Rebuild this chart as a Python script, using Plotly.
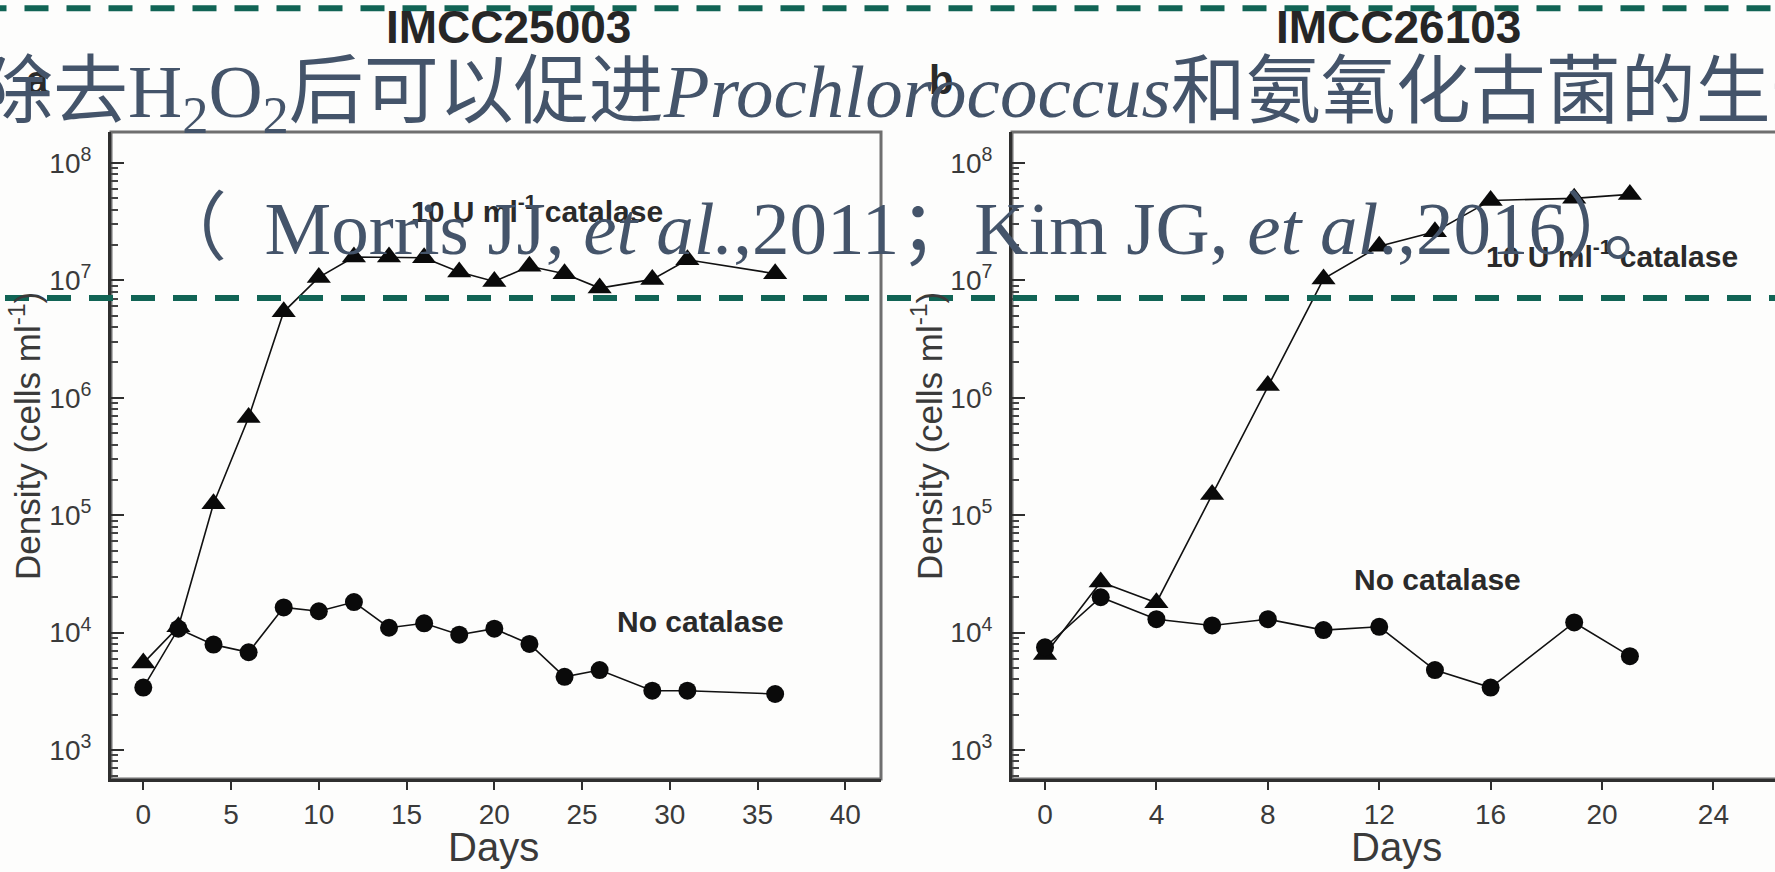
import plotly.graph_objects as go

# ---------------- data ----------------
left_days = [0, 2, 4, 6, 8, 10, 12, 14, 16, 18, 20, 22, 24, 26, 29, 31, 36]
left_catalase = [5.5e3, 1.12e4, 1.25e5, 6.8e5, 5.4e6, 1.06e7, 1.58e7, 1.58e7, 1.56e7,
                 1.18e7, 9.8e6, 1.32e7, 1.14e7, 8.6e6, 1.02e7, 1.5e7, 1.14e7]
left_nocat = [3.4e3, 1.08e4, 7.9e3, 6.8e3, 1.64e4, 1.52e4, 1.82e4, 1.1e4, 1.2e4,
              9.6e3, 1.08e4, 8.0e3, 4.2e3, 4.8e3, 3.2e3, 3.2e3, 3.0e3]

right_days = [0, 2, 4, 6, 8, 10, 12, 14, 16, 19, 21]
right_catalase = [6.5e3, 2.7e4, 1.8e4, 1.5e5, 1.27e6, 1.03e7, 1.95e7, 2.6e7, 4.8e7, 5.0e7, 5.4e7]
right_nocat = [7.5e3, 2.0e4, 1.3e4, 1.15e4, 1.3e4, 1.05e4, 1.12e4, 4.8e3, 3.4e3, 1.22e4, 6.3e3]

left_xticks = [0, 5, 10, 15, 20, 25, 30, 35, 40]
right_xticks = [0, 4, 8, 12, 16, 20, 24]
y_exponents = [3, 4, 5, 6, 7, 8]

titles = ["IMCC25003", "IMCC26103"]
cn_line1 = "除去H<sub>2</sub>O<sub>2</sub>后可以促进<i>Prochlorococcus</i>和氨氧化古菌的生长"
cn_line2 = "（\u00a0\u00a0Morris JJ, <i>et al.</i>,2011；Kim JG, <i>et al</i>.,2016）。"

# ---------------- geometry helpers ----------------
W, H = 1775, 872
def px(x):
    return x / W
def py(y):
    return 1 - y / H

TXT = "#3a3a3a"
AX = "#2f2f2f"
BG = "#fdfdfc"
TEAL = "#116455"
SLATE = "#44546A"

fig = go.Figure()

def add_series(days, vals, symbol, size, xa, ya):
    fig.add_trace(go.Scatter(
        x=days, y=vals, mode="lines+markers", xaxis=xa, yaxis=ya,
        line=dict(color="#111111", width=1.6),
        marker=dict(symbol=symbol, size=size, color="#0a0a0a", line=dict(width=0)),
        showlegend=False, cliponaxis=False))

add_series(left_days, left_catalase, "triangle-up", 21, "x", "y")
add_series(left_days, left_nocat, "circle", 18, "x", "y")
add_series(right_days, right_catalase, "triangle-up", 21, "x2", "y2")
add_series(right_days, right_nocat, "circle", 18, "x2", "y2")

minor_vals = [k * 10 ** e for e in range(2, 9) for k in range(2, 10)]

def xaxis_cfg(domain, rng, ticks):
    return dict(domain=domain, range=rng, tickmode="array", tickvals=ticks,
                ticktext=[str(t) for t in ticks], ticks="outside", ticklen=8,
                tickwidth=2, tickcolor=AX, showline=True, linecolor=AX, linewidth=3,
                mirror=False, showgrid=False, zeroline=False,
                tickfont=dict(family="Liberation Sans, Arial", size=28, color=TXT),
                ticklabelstandoff=0)

def yaxis_cfg(domain, anchor):
    return dict(domain=domain, type="log", range=[2.753, 8.264], anchor=anchor,
                tickmode="array", tickvals=[10 ** e for e in y_exponents],
                ticktext=["10<sup>%d</sup>" % e for e in y_exponents],
                ticks="inside", ticklen=13, tickwidth=2, tickcolor=AX,
                minor=dict(tickmode="array", tickvals=minor_vals, ticks="inside",
                           ticklen=7, tickwidth=1.5, tickcolor="#444", showgrid=False),
                showline=True, linecolor=AX, linewidth=3, mirror=False,
                showgrid=False, zeroline=False,
                tickfont=dict(family="Liberation Sans, Arial", size=28, color=TXT),
                ticklabelstandoff=11)

fig.update_layout(
    width=W, height=H, margin=dict(l=0, r=0, t=0, b=0),
    paper_bgcolor=BG, plot_bgcolor=BG,
    xaxis=dict(**xaxis_cfg([px(111), px(881)], [-1.84, 42.03], left_xticks), anchor="y"),
    yaxis=yaxis_cfg([1 - 779 / H, 1 - 132 / H], "x"),
    xaxis2=dict(**xaxis_cfg([px(1012), 1.0], [-1.185, 26.21], right_xticks), anchor="y2"),
    yaxis2=yaxis_cfg([1 - 779 / H, 1 - 132 / H], "x2"),
)

shapes = []
# gray frames (top/right borders)
for xr, yr, x1 in [("x domain", "y domain", 1), ("x2 domain", "y2 domain", 1.02)]:
    shapes.append(dict(type="rect", xref=xr, yref=yr, x0=0, x1=x1, y0=0, y1=1,
                       line=dict(color="#6f6f6f", width=3), layer="below"))
# teal dashed lines
shapes.append(dict(type="line", xref="paper", yref="paper", x0=px(-17.5), x1=1.03,
                   y0=py(8.3), y1=py(8.3), line=dict(color=TEAL, width=6, dash="24px,18px")))
shapes.append(dict(type="line", xref="paper", yref="paper", x0=px(5), x1=1.03,
                   y0=py(298), y1=py(298), line=dict(color=TEAL, width=6, dash="24px,18px")))
fig.update_layout(shapes=shapes)

SANS = "Liberation Sans, Arial"
ann = []
def A(text, x, y, size, color=TXT, bold=False, angle=0, family=SANS, xanchor="center"):
    ann.append(dict(text=("<b>%s</b>" % text) if bold else text, x=px(x), y=py(y),
                    xref="paper", yref="paper", showarrow=False, xanchor=xanchor,
                    yanchor="middle", textangle=angle,
                    font=dict(family=family, size=size, color=color)))

# panel labels (a is mostly hidden under the overlay text)
A("a", 37, 80, 40, color="#2a2a2a", bold=True)
A("b", 941, 80, 40, color="#2a2a2a", bold=True)
# panel titles
A(titles[0], 508, 27, 46, color="#262626", bold=True)
A(titles[1], 1398, 27, 46, color="#262626", bold=True)
# y-axis titles
A("Density (cells ml<sup>-1</sup>)", 25, 436, 35, angle=-90)
A("Density (cells ml<sup>-1</sup>)", 927, 436, 35, angle=-90)
# x-axis titles
A("Days", 493, 847, 40)
A("Days", 1396, 847, 40)
# series labels
A("10 U ml<sup>-1</sup> catalase", 537, 209, 30, color="#2a2a2a", bold=True)
A("No catalase", 700, 621, 30, color="#2a2a2a", bold=True)
A("10 U ml<sup>-1</sup> catalase", 1612, 254, 30, color="#2a2a2a", bold=True)
A("No catalase", 1437, 579, 30, color="#2a2a2a", bold=True)
# overlay slide text
A(cn_line1, -24, 97, 75, color=SLATE, family="Liberation Serif, Noto Sans CJK SC",
  xanchor="left")
A(cn_line2, 150, 228, 75, color=SLATE, family="Liberation Serif, Noto Sans CJK SC",
  xanchor="left")
fig.update_layout(annotations=ann)

fig.write_html("out.html")
